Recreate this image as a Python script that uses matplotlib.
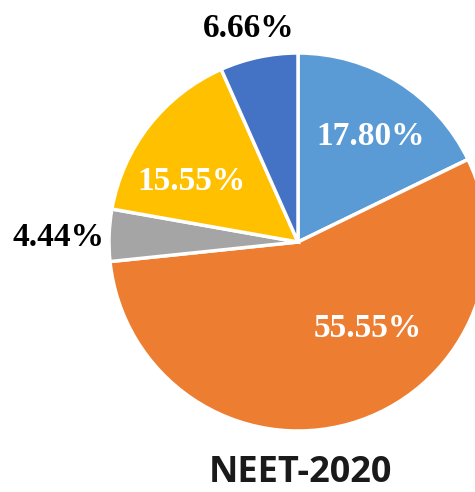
import matplotlib.pyplot as plt
import numpy as np

# slice shares, clockwise from 12 o'clock
shares = [17.80, 55.55, 4.44, 15.55, 6.66]
labels = ['17.80%', '55.55%', '4.44%', '15.55%', '6.66%']
colors = ['#5B9BD5', '#ED7D31', '#A5A5A5', '#FFC000', '#4472C4']
label_colors = ['white', 'white', 'black', 'white', 'black']
# label placement (radius fraction, angle in degrees), Excel "best fit" style
label_r = [0.68, 0.59, 1.27, 0.65, 1.16]
label_ang = [55.4, -51.0, 179.0, 150.3, 103.0]

R = 189.0  # pie radius in pixels
cx, cy = 298.0, 242.0  # pie centre in pixels (from top-left)
W, H = 475, 492

fig = plt.figure(figsize=(W / 100, H / 100), dpi=100)
ax = fig.add_axes([0, 0, 1, 1])

wedges, _ = ax.pie(shares, colors=colors, startangle=90, counterclock=False,
                   radius=1.0, wedgeprops=dict(edgecolor='white', linewidth=2.5))

for lab, col, r, a in zip(labels, label_colors, label_r, label_ang):
    t = np.deg2rad(a)
    ax.text(r * np.cos(t), r * np.sin(t), lab, color=col, ha='center', va='center',
            fontsize=24, fontweight='bold', family='Liberation Serif')

ax.set_xlim(-cx / R, (W - cx) / R)
ax.set_ylim(-(H - cy) / R, cy / R)
ax.set_aspect('equal')
ax.axis('off')

fig.text(300 / W, 1 - 473 / H, 'NEET-2020', ha='center', va='center',
         fontsize=26, fontweight='bold', family='Open Sans', color='#1a1a1a')

fig.savefig('out.png', dpi=100)
